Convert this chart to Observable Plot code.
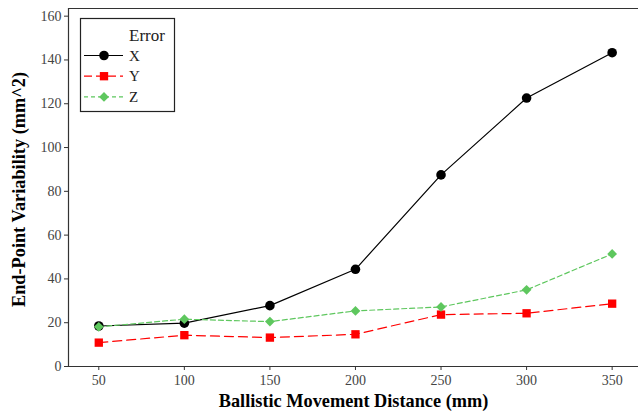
<!DOCTYPE html>
<html>
<head>
<meta charset="utf-8">
<script src="https://cdn.jsdelivr.net/npm/d3@7"></script>
<script src="https://cdn.jsdelivr.net/npm/@observablehq/plot@0.6"></script>
<style>
  html, body { margin: 0; padding: 0; background: #fff; }
  #chart svg { display: block; }
</style>
</head>
<body>
<div id="chart"></div>
<script>
const distances = [50, 100, 150, 200, 250, 300, 350];
const errorX = [18.5, 19.8, 27.8, 44.4, 87.5, 122.6, 143.3];
const errorY = [10.9, 14.3, 13.2, 14.7, 23.7, 24.3, 28.7];
const errorZ = [18.1, 21.6, 20.5, 25.4, 27.2, 35.0, 51.4];
const seriesNames = ["X", "Y", "Z"];
const seriesColors = ["#000000", "#ff0000", "#5ec75e"];
const seriesDash = ["none", "9,5", "5,3"];
const seriesSymbols = ["circle", "square", "diamond2"];
const xTicks = [50, 100, 150, 200, 250, 300, 350];
const yTicks = [0, 20, 40, 60, 80, 100, 120, 140, 160];
const xTitle = "Ballistic Movement Distance (mm)";
const yTitle = "End-Point Variability (mm^2)";
const legendTitle = "Error";

const seriesValues = [errorX, errorY, errorZ];
const data = [];
seriesNames.forEach((s, i) => distances.forEach((d, j) => data.push({series: s, dist: d, value: seriesValues[i][j]})));

const xDomain = [32.3, 365.4];
const yDomain = [0, 163.5];
const font = "'Liberation Serif', 'Times New Roman', 'DejaVu Serif', serif";

const marks = [
  Plot.ruleX([xDomain[0]], {stroke: "#333", strokeWidth: 1.2}),
  Plot.ruleY([yDomain[0]], {stroke: "#333", strokeWidth: 1.2}),
  Plot.ruleY([yDomain[1]], {stroke: "#333", strokeWidth: 1.2}),
  Plot.axisX({ticks: xTicks, tickSize: 4, tickPadding: 5, label: null, color: "#444", fontSize: 14, stroke: "#333"}),
  Plot.axisY({ticks: yTicks, tickSize: 4, tickPadding: 3, label: null, color: "#444", fontSize: 14, stroke: "#333"}),
  Plot.text([xTitle], {frameAnchor: "bottom", dy: 40, fontWeight: "bold", fontSize: 18.3, fill: "#000"}),
  Plot.text([yTitle], {frameAnchor: "left", dx: -49, dy: 2, rotate: -90, textAnchor: "middle", fontWeight: "bold", fontSize: 18.3, fill: "#000"})
];
seriesNames.forEach((s, i) => {
  const sub = data.filter(d => d.series === s);
  marks.push(Plot.line(sub, {x: "dist", y: "value", stroke: seriesColors[i], strokeWidth: 1.2, strokeDasharray: seriesDash[i]}));
});
seriesNames.forEach((s, i) => {
  const sub = data.filter(d => d.series === s);
  marks.push(Plot.dot(sub, {x: "dist", y: "value", symbol: () => seriesSymbols[i], fill: seriesColors[i], stroke: "none", r: i === 0 ? 4.8 : (i === 1 ? 4.7 : 4.4)}));
});

const chart = Plot.plot({
  width: 638,
  height: 419,
  marginLeft: 68,
  marginRight: 0,
  marginTop: 8,
  marginBottom: 53,
  style: {fontSize: "14px", background: "#fff"},
  x: {domain: xDomain},
  y: {domain: yDomain},
  symbol: {type: "identity"},
  marks
});
document.getElementById("chart").appendChild(chart);

// Legend
const svg = d3.select(chart);
const lg = svg.append("g");
lg.append("rect").attr("x", 80.5).attr("y", 18.5).attr("width", 94).attr("height", 93)
  .attr("fill", "#fff").attr("stroke", "#222").attr("stroke-width", 1.2);
lg.append("text").attr("x", 129).attr("y", 41).attr("font-size", 17).attr("fill", "#222").attr("text-anchor", "start").text(legendTitle);
const symMap = {circle: d3.symbolCircle, square: d3.symbolSquare, diamond2: d3.symbolDiamond2};
seriesNames.forEach((s, i) => {
  const yy = 55.5 + i * 20.7;
  lg.append("line").attr("x1", 84).attr("x2", 123).attr("y1", yy).attr("y2", yy)
    .attr("stroke", seriesColors[i]).attr("stroke-width", 1.2)
    .attr("stroke-dasharray", seriesDash[i] === "none" ? null : (i === 1 ? "8,4" : "4,3"));
  const r = i === 0 ? 4.8 : (i === 1 ? 4.7 : 4.4);
  lg.append("path").attr("transform", `translate(104,${yy})`)
    .attr("d", d3.symbol(symMap[seriesSymbols[i]], Math.PI * r * r)())
    .attr("fill", seriesColors[i]);
  lg.append("text").attr("x", 129).attr("y", yy + 5).attr("font-size", 15).attr("fill", "#222").attr("text-anchor", "start").text(s);
});
svg.style("font-family", font);
svg.selectAll("text").style("font-family", font);
</script>
</body>
</html>
